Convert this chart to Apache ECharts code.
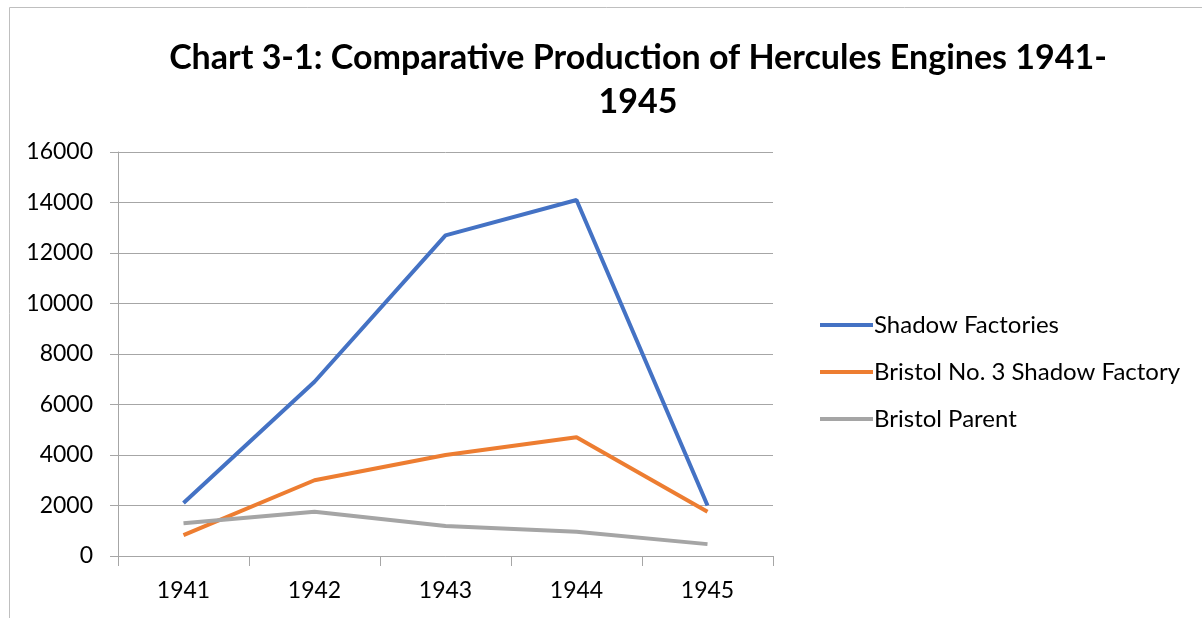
<!DOCTYPE html>
<html>
<head>
<meta charset="utf-8">
<script src="https://cdn.jsdelivr.net/npm/echarts@6/dist/echarts.min.js"></script>
<style>
  html, body { margin: 0; padding: 0; background: #fff; }
  #chart { width: 1202px; height: 618px; }
</style>
</head>
<body>
<div id="chart"></div>
<script>
const years = ['1941', '1942', '1943', '1944', '1945'];
const shadowFactories = [2100, 6900, 12700, 14100, 2000];
const bristolNo3 = [830, 3000, 4000, 4700, 1750];
const bristolParent = [1300, 1750, 1190, 960, 470];

const font = 'Lato, "Open Sans", "Liberation Sans", sans-serif';

const chart = echarts.init(document.getElementById('chart'));
const option = {
  animation: false,
  textStyle: { fontFamily: font },
  graphic: [{
    type: 'rect',
    shape: { x: 9.5, y: 7.5, width: 1400, height: 800 },
    style: { fill: 'none', stroke: '#bfbfbf', lineWidth: 1 }
  }],
  title: {
    text: 'Chart 3-1: Comparative Production of Hercules Engines 1941-\n1945',
    left: 633,
    textAlign: 'center',
    top: 31,
    textStyle: {
      fontFamily: font,
      fontSize: 34,
      fontWeight: 'bold',
      color: '#000',
      lineHeight: 44
    }
  },
  legend: {
    orient: 'vertical',
    left: 815,
    top: 308,
    itemGap: 23,
    itemWidth: 53,
    itemHeight: 4,
    icon: 'rect',
    textStyle: { fontFamily: font, fontSize: 24, color: '#000', padding: [0, 0, 0, -4] },
    data: ['Shadow Factories', 'Bristol No. 3 Shadow Factory', 'Bristol Parent']
  },
  grid: { left: 118, right: 429, top: 152, bottom: 62 },
  xAxis: {
    type: 'category',
    data: years,
    boundaryGap: true,
    axisLine: { lineStyle: { color: '#a6a6a6', width: 1 } },
    axisTick: { show: true, length: 10, alignWithLabel: false, lineStyle: { color: '#a6a6a6' } },
    axisLabel: { fontFamily: font, fontSize: 23, color: '#000', margin: 23 }
  },
  yAxis: {
    type: 'value',
    min: 0,
    max: 16000,
    interval: 2000,
    axisLine: { show: true, lineStyle: { color: '#a6a6a6', width: 1 } },
    axisTick: { show: true, length: 8, lineStyle: { color: '#a6a6a6' } },
    axisLabel: { fontFamily: font, fontSize: 23, color: '#000', margin: 25, formatter: v => String(v) },
    splitLine: { lineStyle: { color: '#a6a6a6', width: 1 } }
  },
  series: [
    {
      name: 'Shadow Factories',
      type: 'line',
      data: shadowFactories,
      symbol: 'none',
      lineStyle: { width: 4, color: '#4472C4' },
      itemStyle: { color: '#4472C4' }
    },
    {
      name: 'Bristol No. 3 Shadow Factory',
      type: 'line',
      data: bristolNo3,
      symbol: 'none',
      lineStyle: { width: 4, color: '#ED7D31' },
      itemStyle: { color: '#ED7D31' }
    },
    {
      name: 'Bristol Parent',
      type: 'line',
      data: bristolParent,
      symbol: 'none',
      lineStyle: { width: 4, color: '#A5A5A5' },
      itemStyle: { color: '#A5A5A5' }
    }
  ]
};
chart.setOption(option);
window.onresize = () => {
  chart.resize();
};
</script>
</body>
</html>
